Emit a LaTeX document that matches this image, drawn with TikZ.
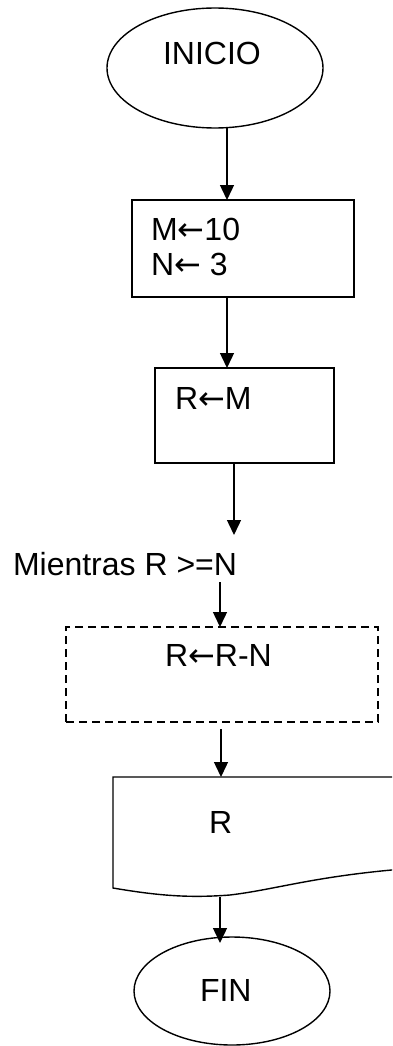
\documentclass[tikz,border=0pt]{standalone}
\usepackage{fontspec}
\setmainfont{Liberation Sans}
\newfontfamily\arrowfont{DejaVu Sans}
\newcommand{\larr}{{\arrowfont ←}}
\usetikzlibrary{shapes.geometric,arrows.meta}
\begin{document}
\begin{tikzpicture}[x=1pt,y=-1pt,
  every node/.style={inner sep=0pt, outer sep=0pt},
  shapeline/.style={draw=black, line width=1.4pt},
  terminal/.style={shapeline, ellipse},
  procbox/.style={shapeline, rectangle},
  loopbox/.style={shapeline, rectangle, dash pattern=on 8pt off 5pt},
  txt/.style={anchor=base west, font=\fontsize{32}{36}\selectfont},
  arr/.style={line width=1.4pt, -{Triangle[length=15pt,width=14pt]}}]
\useasboundingbox (0,0) rectangle (392,1046);
\clip (0,0) rectangle (392,1046);
% shapes
\node[terminal, minimum width=216pt, minimum height=120pt] (inicio) at (215,68) {};
\node[procbox, minimum width=222pt, minimum height=97pt] (box1) at (243,248.5) {};
\node[procbox, minimum width=179pt, minimum height=95pt] (box2) at (244.5,415.5) {};
\node[loopbox, minimum width=312pt, minimum height=95pt] (loop) at (222,674.5) {};
\draw[shapeline] (430,777) -- (113,777) -- (113,888)
  .. controls (160,896) and (190,898) .. (230,895)
  .. controls (280,889) and (320,874) .. (430,867);
\node[terminal, minimum width=196pt, minimum height=108pt] (fin) at (232,991) {};
% texts
\node[txt] (tinicio) at (163,65) {INICIO};
\node[txt] (tm) at (151,240) {M\larr10};
\node[txt] (tn) at (151,275) {N\larr\ 3};
\node[txt] (trm) at (175,409) {R\larr M};
\node[txt] (mientras) at (13,575) {Mientras R >=N};
\node[txt] (trrn) at (165,666) {R\larr R-N};
\node[txt] (tr) at (209,833) {R};
\node[txt] (tfin) at (200,1001) {FIN};
% connector coordinates
\coordinate (c1) at (227,0);
\coordinate (c3) at (234,0);
\coordinate (c4) at (220,0);
\coordinate (c5) at (221,0);
\coordinate (min) at (234,535);
\coordinate (mout) at (220,582);
\coordinate (doctop) at (221,777);
\coordinate (docbot) at (220,897);
\coordinate (fintop) at (220,943);
% connectors
\draw[arr] (c1 |- inicio.south) -- (c1 |- box1.north);
\draw[arr] (c1 |- box1.south) -- (c1 |- box2.north);
\draw[arr] (c3 |- box2.south) -- (min);
\draw[arr] (mout) -- (c4 |- loop.north);
\draw[arr] ([yshift=-7pt]c5 |- loop.south) -- (doctop);
\draw[arr] (docbot) -- (fintop);
\end{tikzpicture}
\end{document}
